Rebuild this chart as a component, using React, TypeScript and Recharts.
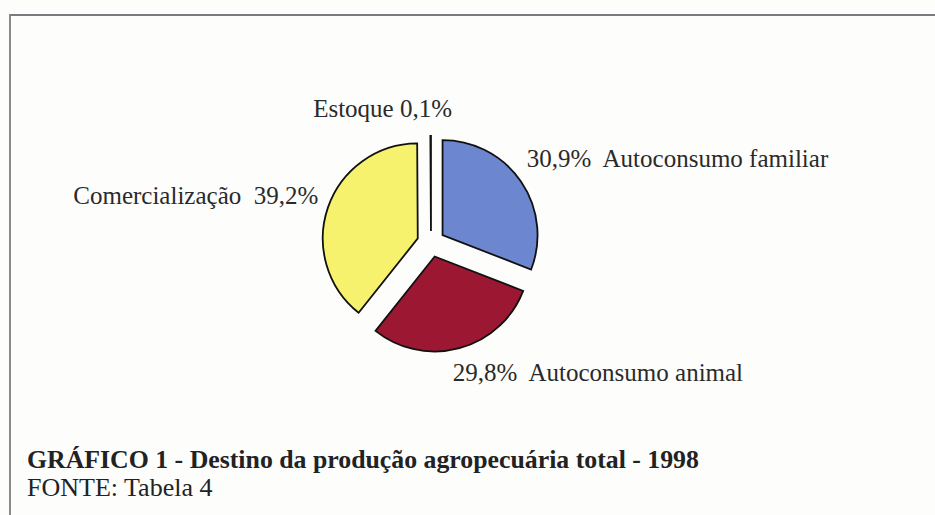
import React from 'react';
import { PieChart, Pie, Cell, Sector } from 'recharts';

// Destino da produção agropecuária total - 1998 (%)
const categories = ['Autoconsumo familiar', 'Autoconsumo animal', 'Comercialização', 'Estoque'];
const shares = [30.9, 29.8, 39.2, 0.1];
const shareLabels = ['30,9%', '29,8%', '39,2%', '0,1%'];
const colors = ['#6c87cf', '#9b1732', '#f7f26e', '#ffffff'];

const data = categories.map((name, i) => ({ name, value: shares[i], text: shareLabels[i] }));

const RAD = Math.PI / 180;
const FONT = '"Liberation Serif", "Times New Roman", serif';

// how far each slice is pulled out of the centre
const explode = [14, 14, 14, 12];

// label placement relative to the slice (distance past the rim, anchor, nudges)
const labelLayout = [
  { r: 26, anchor: 'start', dx: -4, dy: -13, fmt: (d: any) => `${d.text}  ${d.name}` },
  { r: 50, anchor: 'start', dx: -16, dy: -8, fmt: (d: any) => `${d.text}  ${d.name}` },
  { r: 20, anchor: 'end', dx: -4, dy: -7, fmt: (d: any) => `${d.name}  ${d.text}` },
  { r: 28, anchor: 'middle', dx: -48, dy: -9, fmt: (d: any) => `${d.name} ${d.text}` },
];

const ExplodedSlice = (props: any) => {
  const { cx, cy, midAngle, index } = props;
  const d = explode[index] ?? 0;
  const ox = cx + d * Math.cos(-midAngle * RAD);
  const oy = cy + d * Math.sin(-midAngle * RAD);
  return <Sector {...props} cx={ox} cy={oy} stroke="#111" strokeWidth={1.8} />;
};

const renderLabel = (props: any) => {
  const { cx, cy, midAngle, outerRadius, index } = props;
  const l = labelLayout[index];
  const r = outerRadius + l.r;
  const x = cx + r * Math.cos(-midAngle * RAD) + l.dx;
  const y = cy + r * Math.sin(-midAngle * RAD) + l.dy;
  return (
    <text
      x={x}
      y={y}
      textAnchor={l.anchor}
      dominantBaseline="middle"
      fill="#2a2a2a"
      fontFamily={FONT}
      fontSize={25}
      style={{ whiteSpace: 'pre' }}
    >
      {l.fmt(data[index])}
    </text>
  );
};

export default function App() {
  return (
    <div
      style={{
        position: 'fixed',
        left: 0,
        top: 0,
        width: 935,
        height: 515,
        background: '#fdfdfc',
        overflow: 'hidden',
      }}
    >
      {/* frame of the figure */}
      <div
        style={{
          position: 'absolute',
          left: 9,
          top: 14,
          width: 940,
          height: 520,
          borderTop: '2px solid #7a7a80',
          borderLeft: '2px solid #8a8a8a',
        }}
      />
      <PieChart width={935} height={440} style={{ position: 'absolute', left: 0, top: 0 }}>
        <Pie
          data={data}
          dataKey="value"
          nameKey="name"
          cx={426}
          cy={238}
          outerRadius={95}
          startAngle={90}
          endAngle={-270}
          shape={ExplodedSlice}
          label={renderLabel}
          labelLine={false}
          isAnimationActive={false}
        >
          {data.map((d, i) => (
            <Cell key={d.name} fill={colors[i]} />
          ))}
        </Pie>
      </PieChart>
      <div
        style={{
          position: 'absolute',
          left: 27,
          top: 446,
          fontFamily: FONT,
          color: '#222',
          lineHeight: '28px',
        }}
      >
        <div style={{ fontSize: 25.8, fontWeight: 'bold' }}>
          GRÁFICO 1 - Destino da produção agropecuária total - 1998
        </div>
        <div style={{ fontSize: 26 }}>FONTE: Tabela 4</div>
      </div>
    </div>
  );
}
